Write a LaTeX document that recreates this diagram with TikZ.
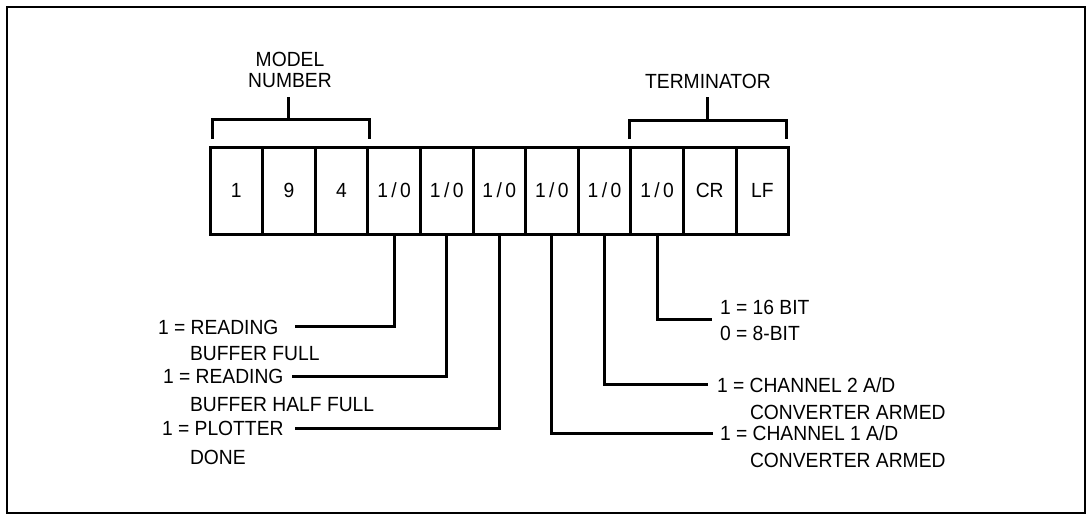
\documentclass[tikz,border=0pt]{standalone}
\usepackage{fontspec}
\setmainfont[FakeStretch=0.94]{Liberation Sans}
\newcommand{\iozero}{1\,/\,0}
\begin{document}
\begin{tikzpicture}[x=1pt,y=-1pt,
  txt/.style={inner sep=0pt,outer sep=0pt,font=\fontsize{20.5}{24}\selectfont},
  lbl/.style={txt,anchor=base west},
  ttl/.style={txt,anchor=base},
  cell/.style={draw,line width=3pt,minimum width=52.6pt,minimum height=87pt,inner sep=0pt,font=\fontsize{20.5}{24}\selectfont},
  wire/.style={line width=3pt},
  brk/.style={line width=3pt}]
\useasboundingbox (0,0) rectangle (1088,515);
\draw[line width=1.5pt] (7,7) rectangle (1085,513);
% cells
\foreach \i/\t in {0/1,1/9,2/4,3/\iozero,4/\iozero,5/\iozero,6/\iozero,7/\iozero,8/\iozero,9/CR,10/LF}{
  \node[cell] (b\i) at (236.3+52.6*\i,190.5) {\t};
}
% top labels
\node[ttl] (model) at (290,66.4) {MODEL};
\node[ttl] (number) at (290,87.4) {NUMBER};
\node[ttl] (term) at (708,88.4) {TERMINATOR};
% brackets
\coordinate (ms) at (288,97);
\coordinate (mb) at (288,119);
\draw[brk] (212,139) -- (212,119) -- (369,119) -- (369,139);
\draw[brk] (ms) -- (mb);
\coordinate (ts) at (707,97);
\coordinate (tb) at (707,120);
\draw[brk] (629,139) -- (629,120) -- (786,120) -- (786,139);
\draw[brk] (ts) -- (tb);
% left labels
\node[lbl] (l1a) at (158,334.4) {1 = READING};
\node[lbl] (l1b) at (190,360.4) {BUFFER FULL};
\node[lbl] (l2a) at (163,383.4) {1 = READING};
\node[lbl] (l2b) at (190,411.4) {BUFFER HALF FULL};
\node[lbl] (l3a) at (162,435.4) {1 = PLOTTER};
\node[lbl] (l3b) at (190,464.4) {DONE};
\coordinate (e1) at (295,326);
\coordinate (e2) at (292,376);
\coordinate (e3) at (295,428);
\draw[wire] (b3.south) |- (e1);
\draw[wire] (b4.south) |- (e2);
\draw[wire] (b5.south) |- (e3);
% right labels
\node[lbl] (r1a) at (720,314.4) {1 = 16 BIT};
\node[lbl] (r1b) at (720,340.4) {0 = 8-BIT};
\node[lbl] (r2a) at (717,392.4) {1 = CHANNEL 2 A/D};
\node[lbl] (r2b) at (750,419.4) {CONVERTER ARMED};
\node[lbl] (r3a) at (720,440.4) {1 = CHANNEL 1 A/D};
\node[lbl] (r3b) at (750,467.4) {CONVERTER ARMED};
\coordinate (f1) at (712,319);
\coordinate (f2) at (708,384);
\coordinate (f3) at (713,433);
\draw[wire] (b8.south) |- (f1);
\draw[wire] (b7.south) |- (f2);
\draw[wire] (b6.south) |- (f3);
\end{tikzpicture}
\end{document}
